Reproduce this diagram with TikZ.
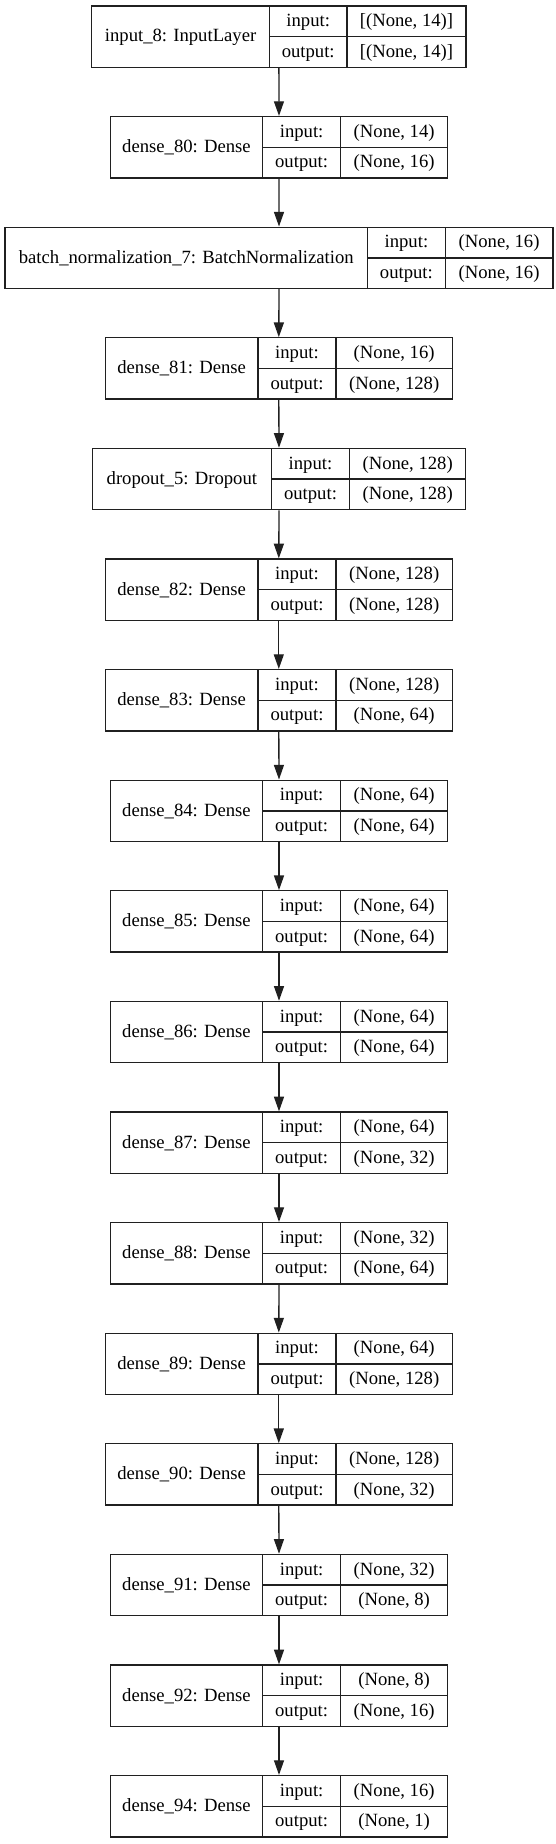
\documentclass[tikz,border=0pt]{standalone}
\usepackage{fontspec}
\setmainfont{Liberation Serif}
\usepackage{tikz}
\usetikzlibrary{
  arrows.meta,
  fit,
}
\definecolor{kerasline}{HTML}{202020}

% one layer record: name, top, column edges (left, key, value, right), label, input, output
\newcommand{\kerasLayer}[9]{%
  \coordinate (#1-nw) at (#3,#2);
  \coordinate (#1-se) at (#6,{#2+61.3});
  \node[layerbox, fit=(#1-nw)(#1-se)] (#1) {};
  \draw[cellline] (#4,#2) -- (#4,{#2+61.3});
  \draw[cellline] (#5,#2) -- (#5,{#2+61.3});
  \draw[cellline] (#4,{#2+30.65}) -- (#6,{#2+30.65});
  \node[celltext] (#1-label) at ({(#3+#4)/2},{#2+36}) {#7};
  \node[celltext] (#1-inkey) at ({(#4+#5)/2},{#2+20.6}) {input:};
  \node[celltext] (#1-inval) at ({(#5+#6)/2},{#2+20.6}) {#8};
  \node[celltext] (#1-outkey) at ({(#4+#5)/2},{#2+51.3}) {output:};
  \node[celltext] (#1-outval) at ({(#5+#6)/2},{#2+51.3}) {#9};
}

\begin{document}
\begin{tikzpicture}[
  x=0.75pt, y=-0.75pt,
  layerbox/.style={
    draw=kerasline, line width=1pt, inner sep=0pt,
  },
  cellline/.style={
    draw=kerasline, line width=1pt,
  },
  celltext/.style={
    anchor=base, inner sep=0pt, text=black,
    font=\fontsize{14}{16}\selectfont,
  },
  flow/.style={
    -{Triangle[length=11pt, width=7.5pt]}, line width=1pt, color=kerasline,
  },
]
  \useasboundingbox (0,0) rectangle (556,1844);

  % Layers
  \kerasLayer{input8}{6}{91.8}{269.4}{347}{466}
    {input\_8: InputLayer}{[(None, 14)]}{[(None, 14)]}
  \kerasLayer{dense80}{116.6}{110.3}{262.6}{340.6}{447.7}
    {dense\_80: Dense}{(None, 14)}{(None, 16)}
  \kerasLayer{batchnorm7}{227.2}{5}{367.6}{445.2}{553}
    {batch\_normalization\_7: BatchNormalization}{(None, 16)}{(None, 16)}
  \kerasLayer{dense81}{337.8}{105.3}{258}{336}{452.3}
    {dense\_81: Dense}{(None, 16)}{(None, 128)}
  \kerasLayer{dropout5}{448.4}{92.2}{271.5}{349.5}{465.8}
    {dropout\_5: Dropout}{(None, 128)}{(None, 128)}
  \kerasLayer{dense82}{559}{105.3}{258}{336}{452.3}
    {dense\_82: Dense}{(None, 128)}{(None, 128)}
  \kerasLayer{dense83}{669.6}{105.3}{258}{336}{452.3}
    {dense\_83: Dense}{(None, 128)}{(None, 64)}
  \kerasLayer{dense84}{780.2}{110.3}{262.6}{340.6}{447.7}
    {dense\_84: Dense}{(None, 64)}{(None, 64)}
  \kerasLayer{dense85}{890.8}{110.3}{262.6}{340.6}{447.7}
    {dense\_85: Dense}{(None, 64)}{(None, 64)}
  \kerasLayer{dense86}{1001.4}{110.3}{262.6}{340.6}{447.7}
    {dense\_86: Dense}{(None, 64)}{(None, 64)}
  \kerasLayer{dense87}{1112}{110.3}{262.6}{340.6}{447.7}
    {dense\_87: Dense}{(None, 64)}{(None, 32)}
  \kerasLayer{dense88}{1222.6}{110.3}{262.6}{340.6}{447.7}
    {dense\_88: Dense}{(None, 32)}{(None, 64)}
  \kerasLayer{dense89}{1333.2}{105.3}{258}{336}{452.3}
    {dense\_89: Dense}{(None, 64)}{(None, 128)}
  \kerasLayer{dense90}{1443.8}{105.3}{258}{336}{452.3}
    {dense\_90: Dense}{(None, 128)}{(None, 32)}
  \kerasLayer{dense91}{1554.4}{110.3}{262.6}{340.6}{447.7}
    {dense\_91: Dense}{(None, 32)}{(None, 8)}
  \kerasLayer{dense92}{1665}{110.3}{262.6}{340.6}{447.7}
    {dense\_92: Dense}{(None, 8)}{(None, 16)}
  \kerasLayer{dense94}{1775.6}{110.3}{262.6}{340.6}{447.7}
    {dense\_94: Dense}{(None, 16)}{(None, 1)}

  % Connections
  \foreach \src/\dst in {input8/dense80, dense80/batchnorm7,
      batchnorm7/dense81, dense81/dropout5, dropout5/dense82,
      dense82/dense83, dense83/dense84, dense84/dense85, dense85/dense86,
      dense86/dense87, dense87/dense88, dense88/dense89, dense89/dense90,
      dense90/dense91, dense91/dense92, dense92/dense94}
    \draw[flow] (\src.south) -- (\dst.north);
\end{tikzpicture}
\end{document}
